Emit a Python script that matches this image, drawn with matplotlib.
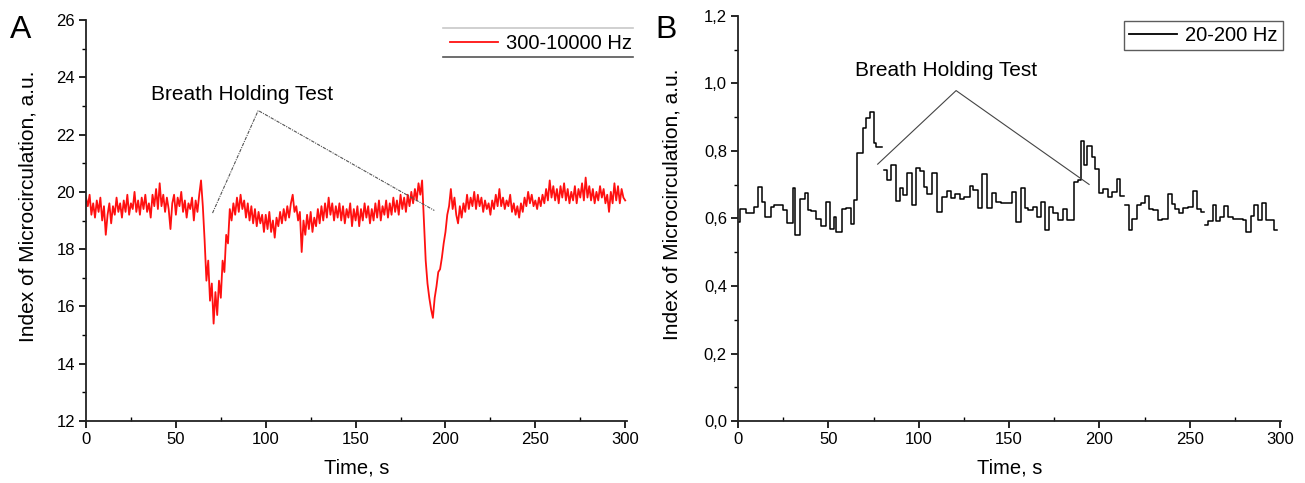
import numpy as np
import matplotlib
matplotlib.use("Agg")
import matplotlib.pyplot as plt
from matplotlib.lines import Line2D
from matplotlib.ticker import MultipleLocator, FuncFormatter

plt.rcParams['font.family'] = ['Liberation Sans', 'DejaVu Sans']

# ---------------- Panel A data: 300-10000 Hz (1 s samples) ----------------
time_a = list(range(0, 301))
index_a = [
    19.8, 19.5, 19.9, 19.2, 19.6, 19.1, 19.7, 19.3, 19.8, 19.0,
    19.5, 18.5, 19.2, 19.6, 18.9, 19.5, 19.2, 19.8, 19.3, 19.6,
    19.1, 19.7, 19.3, 19.9, 19.2, 19.6, 19.4, 20.0, 19.3, 19.7,
    19.2, 19.8, 19.4, 19.9, 19.3, 19.6, 19.1, 19.9, 19.5, 20.1,
    19.4, 20.3, 19.5, 19.9, 19.3, 19.8, 19.4, 18.7, 19.6, 19.9,
    19.2, 19.8, 19.5, 20.0, 19.3, 19.7, 19.1, 19.6, 19.4, 19.8,
    19.0, 19.7, 19.3, 19.9, 20.4, 19.5, 18.3, 16.9, 17.6, 16.2,
    16.8, 15.4, 16.5, 15.7, 16.9, 16.3, 17.6, 17.2, 18.5, 18.2,
    19.4, 19.0, 19.6, 19.2, 19.8, 19.3, 19.9, 19.4, 19.7, 19.1,
    19.6, 19.0, 19.5, 18.9, 19.4, 18.8, 19.3, 18.9, 19.2, 18.6,
    19.2, 18.7, 19.3, 18.6, 19.0, 18.4, 19.1, 18.8, 19.3, 18.9,
    19.4, 19.0, 19.5, 19.1, 19.6, 19.9, 19.3, 19.5, 19.0, 19.3,
    17.9, 19.0, 18.5, 19.2, 18.7, 19.3, 18.6, 19.1, 18.8, 19.4,
    18.9, 19.5, 19.0, 19.6, 19.1, 19.8, 19.2, 19.6, 19.0, 19.5,
    19.1, 19.6, 19.0, 19.5, 18.9, 19.4, 19.1, 19.6, 18.8, 19.4,
    19.0, 19.5, 18.8, 19.4, 19.0, 19.6, 19.1, 19.5, 18.9, 19.4,
    19.0, 19.6, 19.1, 19.7, 19.0, 19.5, 19.2, 19.7, 19.1, 19.6,
    19.2, 19.8, 19.3, 19.7, 19.2, 19.9, 19.4, 19.8, 19.3, 19.9,
    19.5, 20.0, 19.6, 20.1, 19.7, 20.3, 19.9, 20.4, 19.0, 17.6,
    16.8, 16.3, 15.9, 15.6, 16.3, 16.7, 17.2, 17.3, 17.7, 18.2,
    18.6, 19.2, 19.5, 20.1, 19.4, 19.8, 19.2, 18.9, 19.5, 19.1,
    19.6, 19.3, 19.9, 19.4, 19.8, 19.5, 20.0, 19.4, 19.9, 19.5,
    19.8, 19.3, 19.7, 19.4, 19.6, 19.2, 19.7, 19.4, 19.9, 19.5,
    20.1, 19.5, 19.8, 19.4, 19.7, 19.5, 19.9, 19.3, 19.6, 19.2,
    19.5, 19.1, 19.6, 19.3, 19.8, 19.5, 20.0, 19.6, 19.9, 19.5,
    19.7, 19.4, 19.8, 19.5, 19.9, 19.6, 20.1, 19.7, 20.4, 19.8,
    20.2, 19.7, 20.1, 19.6, 20.2, 19.8, 20.3, 19.7, 20.1, 19.6,
    20.0, 19.7, 20.2, 19.6, 20.1, 19.8, 20.3, 19.7, 20.5, 19.8,
    20.2, 19.7, 20.1, 19.6, 20.0, 19.7, 20.2, 19.8, 20.1, 19.6,
    19.9, 19.3, 20.0, 19.6, 20.3, 19.7, 20.2, 19.6, 20.1, 19.8,
    19.7,
]
label_a = "300-10000 Hz"

# ---------------- Panel B data: 20-200 Hz (step starts, NaN = gap) ----------------
time_b = [
    0.0, 1.2, 4.2, 8.8, 11.1, 13.4, 15.2, 18.0, 19.8, 24.9,
    27.2, 30.5, 31.8, 34.2, 36.9, 38.8, 40.6, 43.4, 46.2, 48.5,
    50.8, 53.1, 54.5, 57.7, 60.0, 62.3, 64.2, 66.0, 69.2, 71.1,
    72.9, 75.2, 76.6, 79.9, 80.8, 82.6, 84.9, 87.2, 89.5, 91.4,
    93.7, 96.5, 98.3, 100.6, 102.9, 104.8, 107.5, 109.9, 113.1, 115.9,
    117.7, 120.0, 122.8, 125.1, 128.3, 130.2, 132.9, 135.2, 138.0, 140.3,
    142.6, 145.4, 151.4, 153.7, 156.5, 158.8, 160.6, 163.4, 165.2, 167.6,
    169.9, 172.2, 174.5, 177.2, 179.6, 182.3, 186.0, 188.3, 189.7, 191.6,
    193.4, 195.7, 197.6, 199.9, 202.2, 204.9, 207.2, 209.6, 211.4, 213.7,
    214.2, 216.5, 218.3, 220.6, 222.9, 225.2, 227.6, 229.9, 232.2, 234.5,
    237.7, 240.0, 241.9, 244.2, 246.5, 248.8, 251.6, 253.9, 256.2, 258.0,
    258.5, 260.3, 262.6, 264.5, 266.8, 269.1, 271.4, 273.7, 279.3, 281.1,
    283.9, 285.7, 287.6, 289.9, 292.2, 294.5, 296.8, 298.2,
]
index_b = [
    0.590, 0.627, 0.615, 0.635, 0.694, 0.650, 0.605, 0.635, 0.640, 0.625,
    0.587, 0.689, 0.551, 0.657, 0.676, 0.625, 0.622, 0.600, 0.578, 0.650,
    0.570, 0.605, 0.560, 0.627, 0.630, 0.585, 0.654, 0.795, 0.867, 0.897,
    0.916, 0.824, 0.812, np.nan, 0.745, 0.714, 0.760, 0.651, 0.689, 0.669,
    0.736, 0.640, 0.750, 0.741, 0.694, 0.674, 0.735, 0.620, 0.664, 0.681,
    0.661, 0.674, 0.659, 0.664, 0.696, 0.684, 0.630, 0.731, 0.630, 0.676,
    0.650, 0.646, 0.678, 0.590, 0.691, 0.630, 0.625, 0.635, 0.603, 0.650,
    0.565, 0.635, 0.615, 0.595, 0.627, 0.597, 0.709, 0.714, 0.829, 0.758,
    0.815, 0.783, 0.748, 0.676, 0.686, 0.664, 0.679, 0.716, 0.666, np.nan,
    0.640, 0.567, 0.600, 0.640, 0.645, 0.666, 0.628, 0.625, 0.597, 0.600,
    0.674, 0.643, 0.627, 0.615, 0.630, 0.635, 0.680, 0.627, 0.620, np.nan,
    0.580, 0.592, 0.640, 0.593, 0.605, 0.637, 0.605, 0.600, 0.597, 0.560,
    0.607, 0.640, 0.595, 0.647, 0.595, 0.595, 0.565, 0.565,
]
label_b = "20-200 Hz"

# annotation pointer lines ("Breath Holding Test")
annot_a_x = [70.4, 95.8, 193.8]
annot_a_y = [19.26, 22.84, 19.35]
annot_b_x = [77.3, 120.7, 194.3]
annot_b_y = [0.761, 0.979, 0.701]
annot_text = "Breath Holding Test"

W, H = 1305, 483
fig = plt.figure(figsize=(W / 100, H / 100), dpi=100)

def px(x0, y0, x1, y1):
    return [x0 / W, 1 - y1 / H, (x1 - x0) / W, (y1 - y0) / H]

axA = fig.add_axes(px(86, 20, 627, 421))
axB = fig.add_axes(px(738, 16, 1281, 421))

comma = FuncFormatter(lambda v, p: f"{v:.1f}".replace('.', ','))

for ax in (axA, axB):
    for s in ('top', 'right'):
        ax.spines[s].set_visible(False)
    for s in ('left', 'bottom'):
        ax.spines[s].set_linewidth(1.3)
        ax.spines[s].set_color('#222222')
    ax.xaxis.set_major_locator(MultipleLocator(50))
    ax.xaxis.set_minor_locator(MultipleLocator(25))
    ax.tick_params(axis='x', which='major', direction='out', length=5, width=1.2, labelsize=12, pad=3)
    ax.tick_params(axis='x', which='minor', direction='in', length=3, width=1.0)
    ax.tick_params(axis='y', which='major', direction='out', length=5, width=1.2, labelsize=12, pad=3)
    ax.tick_params(axis='y', which='minor', direction='out', length=3, width=1.0)
    ax.set_xlabel("Time, s", fontsize=14.5, labelpad=8)

axA.set_ylabel("Index of Microcirculation, a.u.", fontsize=15, va='center')
axB.set_ylabel("Index of Microcirculation, a.u.", fontsize=15, va='center')
axA.yaxis.set_label_coords((28 - 86) / 541, 0.536)
axB.yaxis.set_label_coords((672 - 738) / 543, 0.536)

# Panel A
axA.plot(time_a, index_a, color='#ff1010', lw=1.3)
axA.set_xlim(0, 301)
axA.set_ylim(12, 26)
axA.yaxis.set_major_locator(MultipleLocator(2))
axA.yaxis.set_minor_locator(MultipleLocator(1))
axA.plot(annot_a_x, annot_a_y, color='#555555', lw=0.8, ls=(0, (3, 1, 1, 1)))
axA.text(87, 23.4, annot_text, fontsize=15, ha='center', va='center')

legA = axA.legend([Line2D([], [], color='#ff1010', lw=1.3)], [label_a], loc='upper left',
                  bbox_to_anchor=(443 / W, 1 - 27 / H), bbox_transform=fig.transFigure,
                  frameon=False, fontsize=14.5, handlelength=2.4, handletextpad=0.4,
                  borderpad=0.35, borderaxespad=0)
fig.add_artist(Line2D([443 / W, 633 / W], [1 - 28 / H] * 2, color='#c8c8c8', lw=1.2))
fig.add_artist(Line2D([443 / W, 633 / W], [1 - 57 / H] * 2, color='#555555', lw=1.2))

# Panel B
axB.step(time_b, index_b, where='post', color='black', lw=1.1)
axB.set_xlim(0, 300.5)
axB.set_ylim(0, 1.2)
axB.yaxis.set_major_locator(MultipleLocator(0.2))
axB.yaxis.set_minor_locator(MultipleLocator(0.1))
axB.yaxis.set_major_formatter(comma)
axB.plot(annot_b_x, annot_b_y, color='#444444', lw=0.8)
axB.text(115.3, 1.04, annot_text, fontsize=15, ha='center', va='center')

legB = axB.legend([Line2D([], [], color='black', lw=1.3)], [label_b], loc='upper right',
                  bbox_to_anchor=(1283 / W, 1 - 21 / H), bbox_transform=fig.transFigure,
                  frameon=True, fancybox=False, fontsize=14.5, handlelength=2.4,
                  handletextpad=0.4, borderpad=0.25, borderaxespad=0)
legB.get_frame().set_edgecolor('#333333')
legB.get_frame().set_linewidth(1.0)

fig.text(10 / W, 1 - 38 / H, "A", fontsize=23, va='baseline', ha='left')
fig.text(655 / W, 1 - 38 / H, "B", fontsize=23, va='baseline', ha='left')

fig.savefig("out.png", dpi=100)
